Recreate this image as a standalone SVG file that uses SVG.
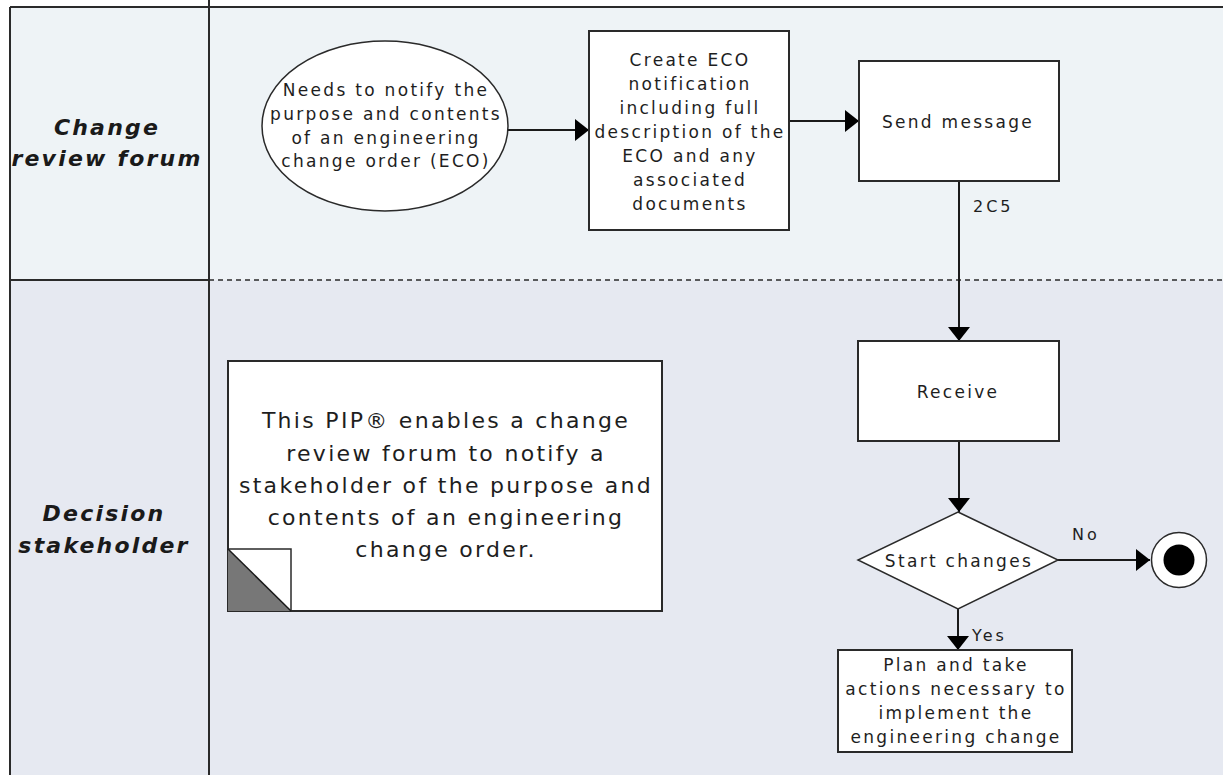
<svg xmlns="http://www.w3.org/2000/svg" width="1223" height="775" viewBox="0 0 1223 775">
<style>
.lane{stroke:#2a2a2a;stroke-width:2;fill:none}
.box{fill:#ffffff;stroke:#2a2a2a;stroke-width:2}
.t{font-family:"DejaVu Sans",Verdana,sans-serif;font-size:17px;letter-spacing:2.3px;fill:#1e1e1e;text-anchor:middle}
.note{font-family:"DejaVu Sans",Verdana,sans-serif;font-size:22px;letter-spacing:2.3px;fill:#1e1e1e;text-anchor:middle}
.lbl{font-family:"DejaVu Sans",Verdana,sans-serif;font-size:22px;font-style:italic;font-weight:bold;letter-spacing:2.2px;fill:#1a1a1a;text-anchor:middle}
.el{font-family:"DejaVu Sans",Verdana,sans-serif;font-size:16px;letter-spacing:3px;fill:#1e1e1e}
.conn{stroke:#1a1a1a;stroke-width:2;fill:none;marker-end:url(#arr)}
</style>
<defs>
<marker id="arr" markerUnits="userSpaceOnUse" markerWidth="14" markerHeight="22" refX="14" refY="11" orient="auto">
<path d="M0,0 L14,11 L0,22 Z" fill="#000"/>
</marker>
</defs>
<rect x="0" y="0" width="1223" height="775" fill="#ffffff"/>
<g id="lanes">
<rect x="10" y="7" width="1213" height="273" fill="#eef3f6"/>
<rect x="10" y="280" width="1213" height="495" fill="#e6e9f1"/>
<line class="lane" x1="10" y1="7" x2="1223" y2="7"/>
<line class="lane" x1="10" y1="7" x2="10" y2="775"/>
<line class="lane" x1="209" y1="0" x2="209" y2="775"/>
<line class="lane" x1="10" y1="280" x2="209" y2="280"/>
<line x1="209" y1="280" x2="1223" y2="280" stroke="#2a2a2a" stroke-width="1.5" stroke-dasharray="5 4"/>
</g>
<g id="lane-change-review-forum">
<text class="lbl" x="107" y="135">Change</text>
<text class="lbl" x="107" y="166">review forum</text>
</g>
<g id="lane-decision-stakeholder">
<text class="lbl" x="104" y="521">Decision</text>
<text class="lbl" x="104" y="553">stakeholder</text>
</g>
<g id="connectors">
<path class="conn" d="M508,130 L589,130"/>
<path class="conn" d="M789,121 L859,121"/>
<path class="conn" d="M959,181 L959,341"/>
<path class="conn" d="M959,441 L959,512"/>
<path class="conn" d="M1058,560 L1150,560"/>
<path class="conn" d="M958,609 L958,650"/>
<text class="el" x="973" y="212">2C5</text>
<text class="el" x="1072" y="540">No</text>
<text class="el" x="972" y="641">Yes</text>
</g>
<g id="start">
<ellipse cx="385" cy="126" rx="123" ry="85" fill="#ffffff" stroke="#2a2a2a" stroke-width="1.5"/>
<text class="t" x="386" y="96">Needs to notify the</text>
<text class="t" x="386" y="120">purpose and contents</text>
<text class="t" x="386" y="144">of an engineering</text>
<text class="t" x="386" y="167">change order (ECO)</text>
</g>
<g id="create-eco">
<rect class="box" x="589" y="31" width="200" height="199"/>
<text class="t" x="690" y="66">Create ECO</text>
<text class="t" x="690" y="90">notification</text>
<text class="t" x="690" y="114">including full</text>
<text class="t" x="690" y="138">description of the</text>
<text class="t" x="690" y="162">ECO and any</text>
<text class="t" x="690" y="186">associated</text>
<text class="t" x="690" y="210">documents</text>
</g>
<g id="send-message">
<rect class="box" x="859" y="61" width="200" height="120"/>
<text class="t" x="958" y="128">Send message</text>
</g>
<g id="receive">
<rect class="box" x="858" y="341" width="201" height="100"/>
<text class="t" x="958" y="398">Receive</text>
</g>
<g id="start-changes">
<polygon points="958,512 1058,560 958,609 858,560" fill="#ffffff" stroke="#2a2a2a" stroke-width="1.5"/>
<text class="t" x="959" y="567">Start changes</text>
</g>
<g id="end">
<circle cx="1179" cy="560" r="27.5" fill="#ffffff" stroke="#2a2a2a" stroke-width="1.5"/>
<circle cx="1179" cy="560" r="15.5" fill="#000000"/>
</g>
<g id="plan-actions">
<rect class="box" x="838" y="650" width="234" height="102"/>
<text class="t" x="956" y="671">Plan and take</text>
<text class="t" x="956" y="695">actions necessary to</text>
<text class="t" x="956" y="719">implement the</text>
<text class="t" x="956" y="743">engineering change</text>
</g>
<g id="note">
<rect class="box" x="228" y="361" width="434" height="250"/>
<rect x="228" y="549" width="63" height="62" fill="#ffffff" stroke="#2a2a2a" stroke-width="1.5"/>
<polygon points="228,549 291,611 228,611" fill="#777777"/>
<line x1="228" y1="549" x2="291" y2="611" stroke="#1a1a1a" stroke-width="1.5"/>
<text class="note" x="446" y="428">This PIP® enables a change</text>
<text class="note" x="446" y="461">review forum to notify a</text>
<text class="note" x="446" y="493">stakeholder of the purpose and</text>
<text class="note" x="446" y="525">contents of an engineering</text>
<text class="note" x="446" y="557">change order.</text>
</g>
</svg>
